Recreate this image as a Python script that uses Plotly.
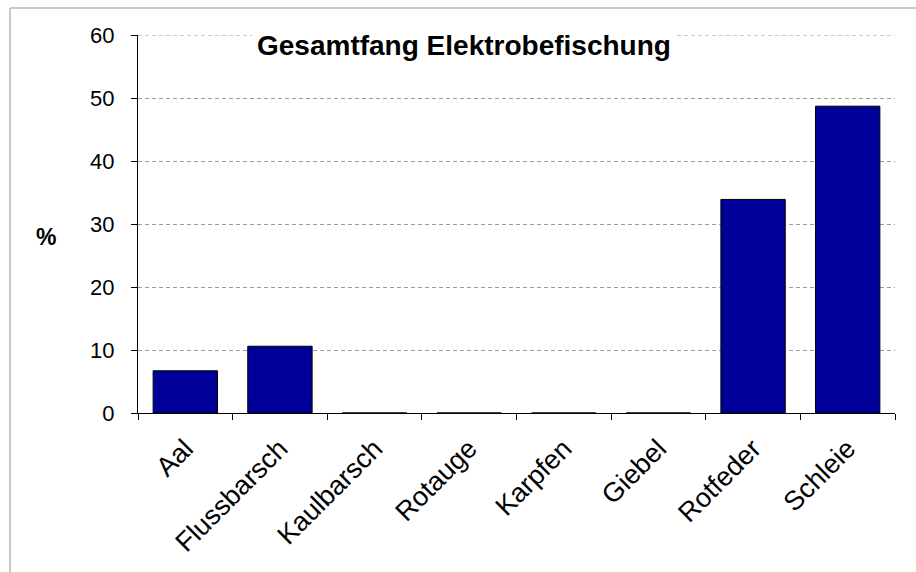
import plotly.graph_objects as go

# Fish species caught by electrofishing and their share of the total catch (%)
species = ["Aal", "Flussbarsch", "Kaulbarsch", "Rotauge", "Karpfen", "Giebel", "Rotfeder", "Schleie"]
share_pct = [6.7, 10.6, 0, 0, 0, 0, 33.9, 48.7]
y_ticks = [0, 10, 20, 30, 40, 50, 60]

W, H = 916, 572
ML, MR, MT, MB = 138, 21, 35, 159
pw, ph = W - ML - MR, H - MT - MB

font_family = "Liberation Sans, Arial, sans-serif"
grid_color = "#9a9a9a"
grid_dash = "4px,3px"

fig = go.Figure(
    go.Bar(
        x=species,
        y=share_pct,
        width=0.68,
        marker=dict(color="#000099", line=dict(color="#000000", width=1)),
        hoverinfo="x+y",
    )
)

# Outer chart frame (left and top edges)
fx = lambda px: (px - ML) / pw
fy = lambda py: 1 - (py - MT) / ph
fig.add_shape(type="line", xref="paper", yref="paper",
              x0=fx(10), x1=fx(10), y0=fy(8), y1=fy(H),
              line=dict(color="#c8c8c8", width=2))
fig.add_shape(type="line", xref="paper", yref="paper",
              x0=fx(10), x1=fx(W), y0=fy(8), y1=fy(8),
              line=dict(color="#c8c8c8", width=2))

# Gridline at the top of the value range
fig.add_shape(type="line", xref="paper", yref="y",
              x0=0, x1=1, y0=y_ticks[-1], y1=y_ticks[-1],
              line=dict(color=grid_color, width=1, dash=grid_dash), layer="below")

fig.add_annotation(
    text="<b>Gesamtfang Elektrobefischung</b>",
    xref="paper", yref="paper", x=fx(464), y=fy(45),
    xanchor="center", yanchor="middle", showarrow=False,
    bgcolor="white", borderpad=4,
    font=dict(family=font_family, size=28, color="#000000"),
)
fig.add_annotation(
    text="<b>%</b>",
    xref="paper", yref="paper", x=fx(46), y=fy(237),
    xanchor="center", yanchor="middle", showarrow=False,
    font=dict(family=font_family, size=23, color="#000000"),
)

fig.update_layout(
    width=W, height=H,
    margin=dict(l=ML, r=MR, t=MT, b=MB, pad=0),
    paper_bgcolor="white", plot_bgcolor="white",
    showlegend=False,
    font=dict(family=font_family, size=22, color="#000000"),
)
fig.update_xaxes(
    tickangle=-45,
    tickson="boundaries",
    ticks="outside", ticklen=6, tickcolor="#000000",
    ticklabelstandoff=8,
    showline=True, linecolor="#000000", linewidth=1,
    showgrid=False,
    tickfont=dict(size=27),
)
fig.update_yaxes(
    range=[0, 60],
    tickvals=y_ticks,
    ticks="outside", ticklen=6, tickcolor="#000000",
    ticklabelstandoff=12,
    showline=True, linecolor="#000000", linewidth=1,
    showgrid=True, gridcolor=grid_color, griddash=grid_dash, gridwidth=1,
    zeroline=False,
    tickfont=dict(size=22),
)

fig.write_html("out.html")
